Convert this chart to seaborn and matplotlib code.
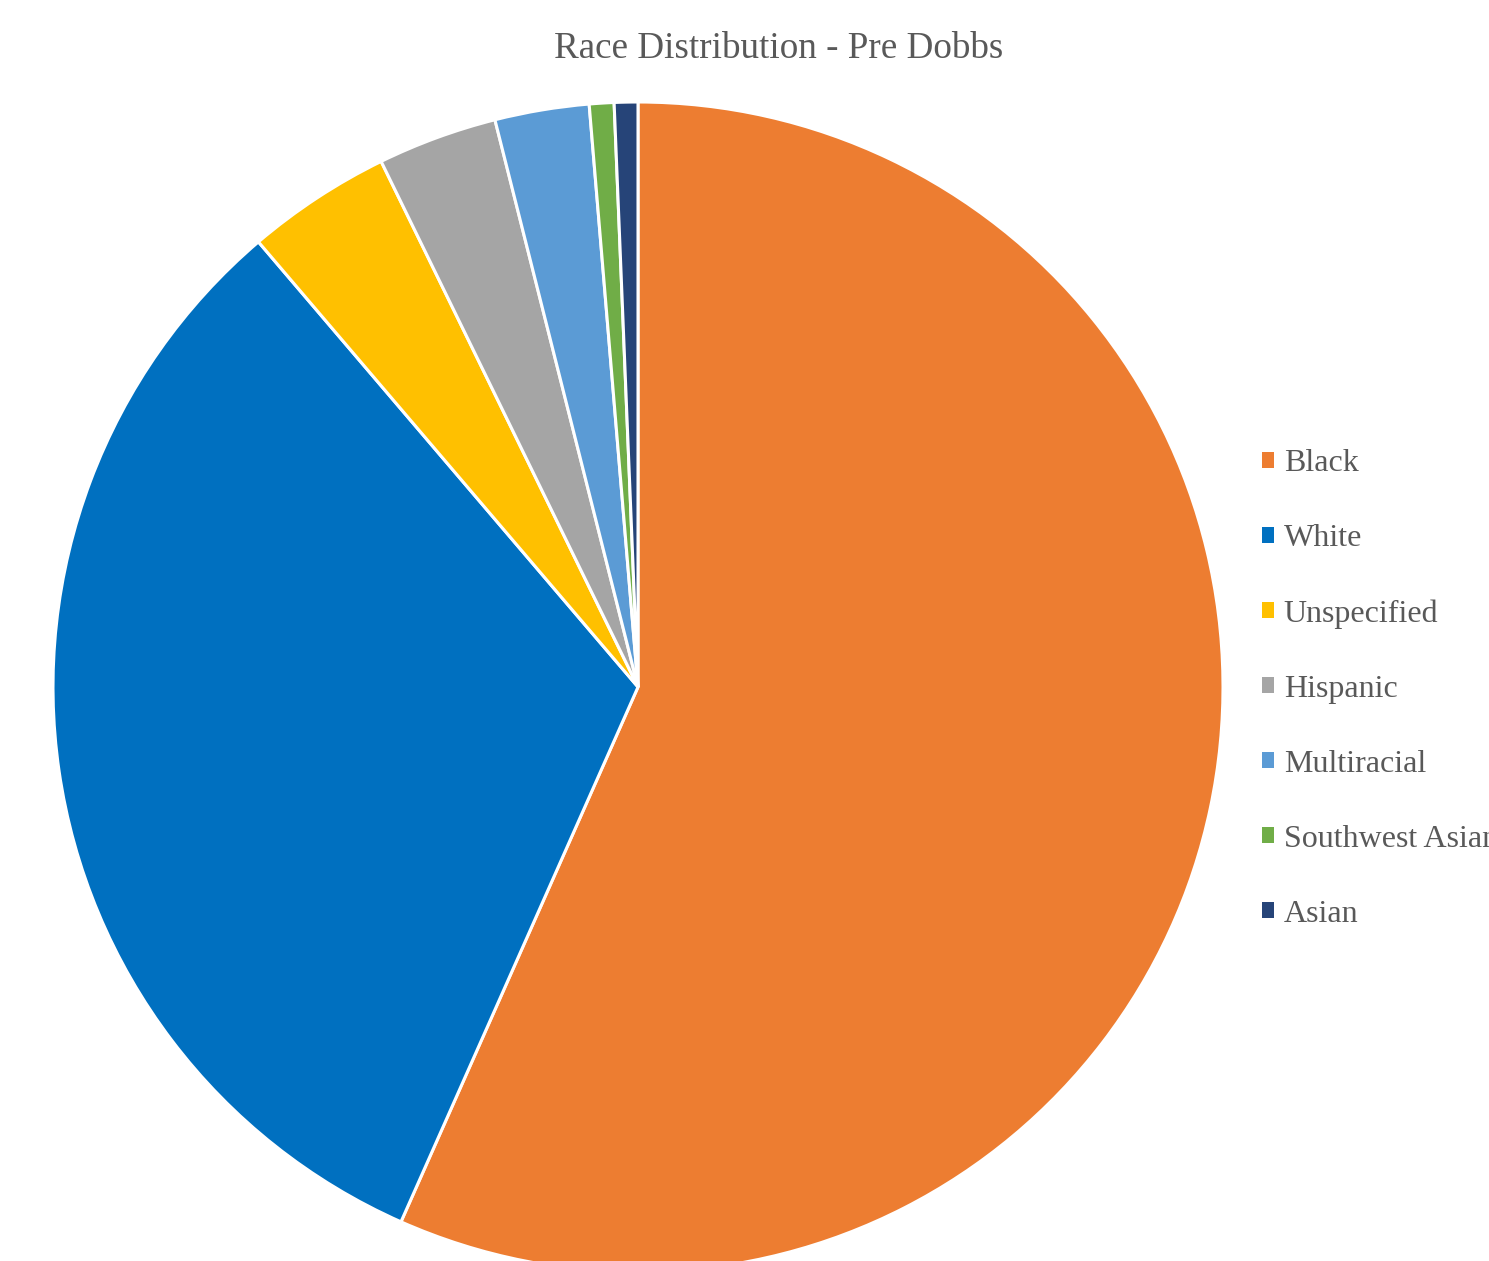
import matplotlib
matplotlib.use("Agg")
import matplotlib.pyplot as plt
import matplotlib.patches as mpatches
import seaborn as sns

races = ['Black', 'White', 'Unspecified', 'Hispanic', 'Multiracial', 'Southwest Asian', 'Asian']
shares = [56.6, 32.1, 4.0, 3.3, 2.6, 0.68, 0.65]
colors = ['#ED7D31', '#0070C0', '#FFC000', '#A5A5A5', '#5B9BD5', '#70AD47', '#264478']

sns.set_theme(style='white')
plt.rcParams['font.family'] = ['Liberation Serif', 'DejaVu Serif']

fig = plt.figure(figsize=(14.89, 12.61), dpi=100)
ax = fig.add_axes([53 / 1489, (1261 - 1272) / 1261, 1170 / 1489, 1170 / 1261])
ax.pie(shares, colors=colors, startangle=90, counterclock=False,
       wedgeprops={'edgecolor': 'white', 'linewidth': 2.2})
ax.set_xlim(-1, 1)
ax.set_ylim(-1, 1)
ax.set_aspect('equal')
ax.axis('off')

fig.text(779 / 1489, 1 - 49 / 1261, 'Race Distribution - Pre Dobbs',
         ha='center', va='center', fontsize=26.7, color='#595959')

handles = [mpatches.Patch(facecolor=c, edgecolor='none', label=r) for r, c in zip(races, colors)]
fig.legend(handles=handles, loc='center left', bbox_to_anchor=(1262 / 1489, 1 - 689 / 1261),
           frameon=False, fontsize=23, labelcolor='#595959', handlelength=0.38, handleheight=0.38,
           handletextpad=0.3, labelspacing=1.44, borderpad=0, borderaxespad=0)

plt.savefig('out.png', dpi=100)
